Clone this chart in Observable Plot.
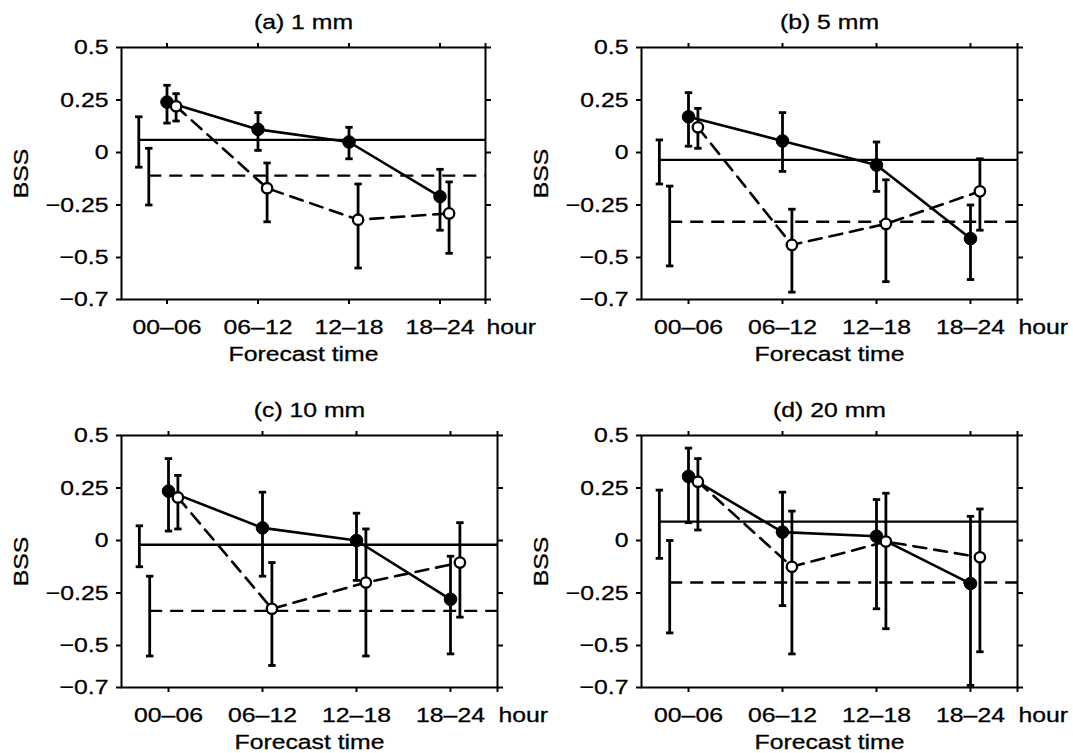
<!DOCTYPE html>
<html>
<head>
<meta charset="utf-8">
<script src="https://cdn.jsdelivr.net/npm/d3@7"></script>
<script src="https://cdn.jsdelivr.net/npm/@observablehq/plot@0.6"></script>
<style>
  body { margin: 0; background: #fff; color: #000; }
  #wrap { position: relative; width: 1073px; height: 753px; overflow: hidden; background: #fff; }
  #wrap text { stroke: #000; stroke-width: 0.3px; }
</style>
</head>
<body>
<div id="wrap"></div>
<script>
// ---------------- data ----------------
const categories = ["00–06", "06–12", "12–18", "18–24"];
const hourLabel = "hour";
const xLabel = "Forecast time";
const yLabel = "BSS";
const yTicks = [-0.7, -0.5, -0.25, 0, 0.25, 0.5];
const titles = ["(a) 1 mm", "(b) 5 mm", "(c) 10 mm", "(d) 20 mm"];

// panel (a) 1 mm
const aSolid   = [0.24, 0.11, 0.05, -0.21];
const aSolidLo = [0.14, 0.01, -0.03, -0.37];
const aSolidHi = [0.32, 0.19, 0.12, -0.08];
const aDash    = [0.22, -0.17, -0.32, -0.29];
const aDashLo  = [0.15, -0.33, -0.55, -0.48];
const aDashHi  = [0.28, -0.05, -0.15, -0.14];
const aRefSolid = [0.06, -0.07, 0.17];   // value, low, high
const aRefDash  = [-0.11, -0.25, 0.02];

// panel (b) 5 mm
const bSolid   = [0.17, 0.055, -0.06, -0.41];
const bSolidLo = [0.03, -0.09, -0.185, -0.605];
const bSolidHi = [0.285, 0.19, 0.05, -0.25];
const bDash    = [0.12, -0.44, -0.34, -0.185];
const bDashLo  = [0.02, -0.665, -0.615, -0.37];
const bDashHi  = [0.21, -0.27, -0.13, -0.03];
const bRefSolid = [-0.035, -0.15, 0.06];
const bRefDash  = [-0.33, -0.54, -0.16];

// panel (c) 10 mm
const cSolid   = [0.235, 0.06, 0.0, -0.28];
const cSolidLo = [0.045, -0.17, -0.19, -0.54];
const cSolidHi = [0.39, 0.23, 0.13, -0.075];
const cDash    = [0.205, -0.325, -0.2, -0.105];
const cDashLo  = [0.055, -0.595, -0.55, -0.365];
const cDashHi  = [0.31, -0.105, 0.055, 0.085];
const cRefSolid = [-0.02, -0.125, 0.07];
const cRefDash  = [-0.335, -0.55, -0.17];

// panel (d) 20 mm
const dSolid   = [0.305, 0.04, 0.02, -0.205];
const dSolidLo = [0.085, -0.31, -0.325, -0.69];
const dSolidHi = [0.44, 0.23, 0.195, 0.115];
const dDash    = [0.28, -0.125, -0.005, -0.08];
const dDashLo  = [0.05, -0.54, -0.42, -0.53];
const dDashHi  = [0.39, 0.14, 0.225, 0.15];
const dRefSolid = [0.09, -0.085, 0.24];
const dRefDash  = [-0.2, -0.44, 0.0];

// ---------------- layout / style ----------------
const X_MIN = 0.5, X_MAX = 4.5;
const OPEN_OFFSET = 0.1;
const REF_SOLID_X = 0.69, REF_DASH_X = 0.8;
const TEXT_STRETCH = 1.18;
const DASH = "13,8";

const panels = [
  {title: titles[0], solid: aSolid, solidLo: aSolidLo, solidHi: aSolidHi, dash: aDash, dashLo: aDashLo, dashHi: aDashHi, refSolid: aRefSolid, refDash: aRefDash,
   box: {left: 0, top: 0, width: 536, height: 376, ml: 121, mr: 51, mt: 47, mb: 77}},
  {title: titles[1], solid: bSolid, solidLo: bSolidLo, solidHi: bSolidHi, dash: bDash, dashLo: bDashLo, dashHi: bDashHi, refSolid: bRefSolid, refDash: bRefDash,
   box: {left: 536, top: 0, width: 537, height: 376, ml: 105, mr: 56, mt: 47, mb: 77}},
  {title: titles[2], solid: cSolid, solidLo: cSolidLo, solidHi: cSolidHi, dash: cDash, dashLo: cDashLo, dashHi: cDashHi, refSolid: cRefSolid, refDash: cRefDash,
   box: {left: 0, top: 376, width: 536, height: 377, ml: 121, mr: 39, mt: 59, mb: 66}},
  {title: titles[3], solid: dSolid, solidLo: dSolidLo, solidHi: dSolidHi, dash: dDash, dashLo: dDashLo, dashHi: dDashHi, refSolid: dRefSolid, refDash: dRefDash,
   box: {left: 536, top: 376, width: 537, height: 377, ml: 105, mr: 56, mt: 59, mb: 66}}
];

const capSymbol = {draw(ctx) { ctx.moveTo(-3.7, 0); ctx.lineTo(3.7, 0); }};
const fmtY = d => d === 0 ? "0" : (d < 0 ? "\u2212" + String(Math.abs(d)) : String(d));

function stretchText(svg, s) {
  svg.querySelectorAll("text").forEach(t => {
    const x = parseFloat(t.getAttribute("x")) || 0;
    const tr = t.getAttribute("transform") || "";
    t.setAttribute("transform", `${tr} translate(${x},0) scale(${s},1) translate(${-x},0)`);
  });
}

function makePanel(p) {
  const solidRows = p.solid.map((v, i) => ({x: i + 1, v, lo: p.solidLo[i], hi: p.solidHi[i]}));
  const dashRows = p.dash.map((v, i) => ({x: i + 1 + OPEN_OFFSET, v, lo: p.dashLo[i], hi: p.dashHi[i]}));
  const refSolid = [{x: REF_SOLID_X, v: p.refSolid[0], lo: p.refSolid[1], hi: p.refSolid[2]}];
  const refDash = [{x: REF_DASH_X, v: p.refDash[0], lo: p.refDash[1], hi: p.refDash[2]}];
  const bars = [...refSolid, ...refDash, ...solidRows, ...dashRows];
  const caps = bars.flatMap(d => [{x: d.x, y: d.lo}, {x: d.x, y: d.hi}]);
  const b = p.box;
  const xTicks = [1, 2, 3, 4, X_MAX];

  const svg = Plot.plot({
    width: b.width, height: b.height,
    marginLeft: b.ml, marginRight: b.mr, marginTop: b.mt, marginBottom: b.mb,
    x: {type: "linear", domain: [X_MIN, X_MAX]},
    y: {type: "linear", domain: [yTicks[0], yTicks[yTicks.length - 1]]},
    style: {fontFamily: "'Liberation Sans', Arial, Helvetica, sans-serif", fontSize: "21px",
            background: "none", overflow: "visible", position: "absolute",
            left: b.left + "px", top: b.top + "px", maxWidth: "none", color: "#000"},
    marks: [
      Plot.ruleY(refSolid, {y: "v", x1: "x", x2: X_MAX, stroke: "#000", strokeWidth: 2.4}),
      Plot.ruleY(refDash, {y: "v", x1: "x", x2: X_MAX, stroke: "#000", strokeWidth: 2.4, strokeDasharray: DASH}),
      Plot.line(solidRows, {x: "x", y: "v", stroke: "#000", strokeWidth: 2.6}),
      Plot.line(dashRows, {x: "x", y: "v", stroke: "#000", strokeWidth: 2.6, strokeDasharray: DASH}),
      Plot.ruleX(bars, {x: "x", y1: "lo", y2: "hi", stroke: "#000", strokeWidth: 2.8}),
      Plot.dot(caps, {x: "x", y: "y", symbol: capSymbol, r: 3.7, fill: "none", stroke: "#000", strokeWidth: 2.8}),
      Plot.dot(solidRows, {x: "x", y: "v", r: 6.3, fill: "#000", stroke: "#000", strokeWidth: 1}),
      Plot.dot(dashRows, {x: "x", y: "v", r: 5.2, fill: "#fff", stroke: "#000", strokeWidth: 2.3}),
      Plot.frame({stroke: "#000", strokeWidth: 2}),
      Plot.axisX(xTicks, {anchor: "bottom", tickSize: 5, tickPadding: 15, strokeWidth: 2,
        tickFormat: d => categories[d - 1] ?? "", label: null}),
      Plot.axisX(xTicks, {anchor: "top", tickSize: 5, strokeWidth: 2, tickFormat: () => "", label: null}),
      Plot.axisY(yTicks, {anchor: "left", tickSize: 5, tickPadding: 8, strokeWidth: 2, tickFormat: fmtY, label: null}),
      Plot.axisY(yTicks, {anchor: "right", tickSize: 5, strokeWidth: 2, tickFormat: () => "", label: null}),
      Plot.text([{x: X_MAX, t: hourLabel}], {x: "x", text: "t", frameAnchor: "bottom", textAnchor: "start",
        lineAnchor: "top", dy: 20, dx: 1}),
      Plot.text([xLabel], {frameAnchor: "bottom", lineAnchor: "bottom", dy: 61}),
      Plot.text([p.title], {frameAnchor: "top", lineAnchor: "bottom", dy: -19}),
      Plot.text([yLabel], {frameAnchor: "left", textAnchor: "middle", rotate: -90, dx: -100})
    ]
  });
  stretchText(svg, TEXT_STRETCH);
  return svg;
}

const wrap = document.getElementById("wrap");
panels.forEach(p => wrap.appendChild(makePanel(p)));
</script>
</body>
</html>
